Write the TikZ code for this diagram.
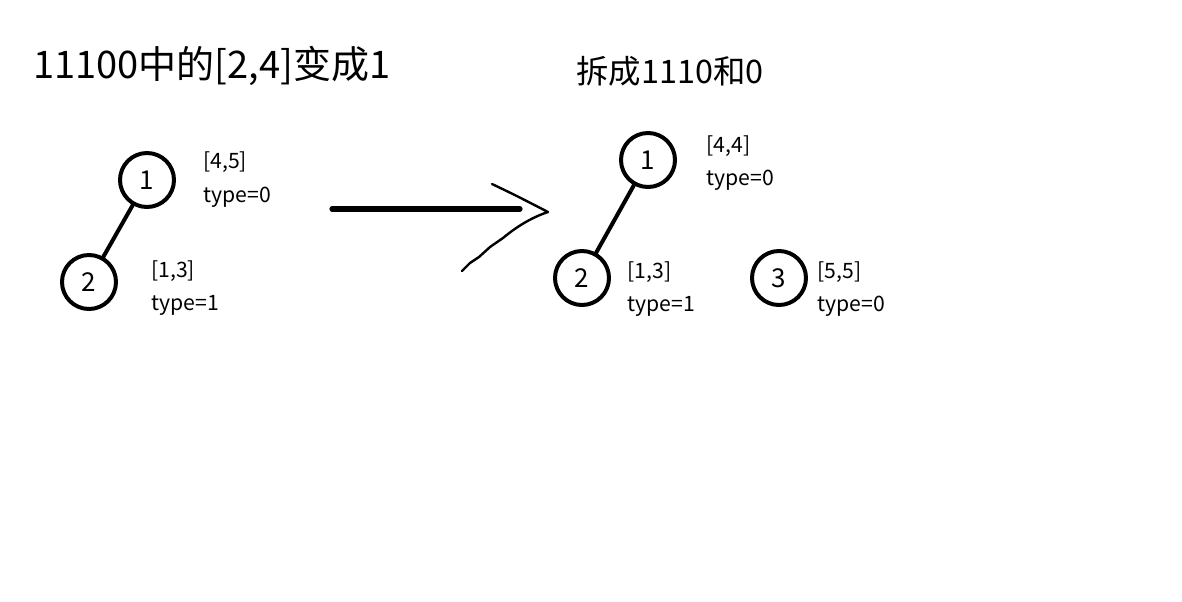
\documentclass[tikz,border=0pt]{standalone}
\usepackage{fontspec}
\setmainfont{Noto Sans CJK SC}
\begin{document}
\begin{tikzpicture}[x=0.5pt, y=-0.5pt, line cap=round, line join=round]
\tikzstyle{vtx}=[draw, circle, line width=2pt, minimum size=27pt, inner sep=0pt, font=\fontsize{13}{13}\selectfont]
\tikzstyle{lbl}=[anchor=base west, inner sep=0pt, font=\fontsize{10.6}{11}\selectfont]
\tikzstyle{edge}=[line width=2pt]
\useasboundingbox (0,0) rectangle (1182,601);
\node[anchor=base west, inner sep=0pt, font=\fontsize{19}{20}\selectfont] (title1) at (33,78) {11100中的[2,4]变成1};
\node[anchor=base west, inner sep=0pt, font=\fontsize{16.2}{17}\selectfont] (title2) at (576,83) {拆成1110和0};

% before
\node[vtx] (a1) at (147,180) {1};
\node[vtx] (a2) at (89,282) {2};
\draw[edge] (a1) -- (a2);
\node[lbl] (a1r) at (203,168) {[4,5]};
\node[lbl] (a1t) at (203,202) {type=0};
\node[lbl] (a2r) at (151,277) {[1,3]};
\node[lbl] (a2t) at (151,310) {type=1};

% arrow
\coordinate (sL) at (332,209);
\coordinate (sR) at (520,209);
\draw[line width=2.6pt] (sL) -- (sR);
\draw[line width=1.2pt] (492,184) .. controls (515,195) .. (548,212)
  .. controls (530,218) and (515,228) .. (503,238)
  -- (490,247) -- (479,257) -- (470,263) -- (462,271);

% after
\node[vtx] (b1) at (648,160) {1};
\node[vtx] (b2) at (582,278) {2};
\node[vtx] (b3) at (779,278) {3};
\draw[edge] (b1) -- (b2);
\node[lbl] (b1r) at (706,152) {[4,4]};
\node[lbl] (b1t) at (706,185) {type=0};
\node[lbl] (b2r) at (627,278) {[1,3]};
\node[lbl] (b2t) at (627,311) {type=1};
\node[lbl] (b3r) at (817,278) {[5,5]};
\node[lbl] (b3t) at (817,311) {type=0};
\end{tikzpicture}
\end{document}
